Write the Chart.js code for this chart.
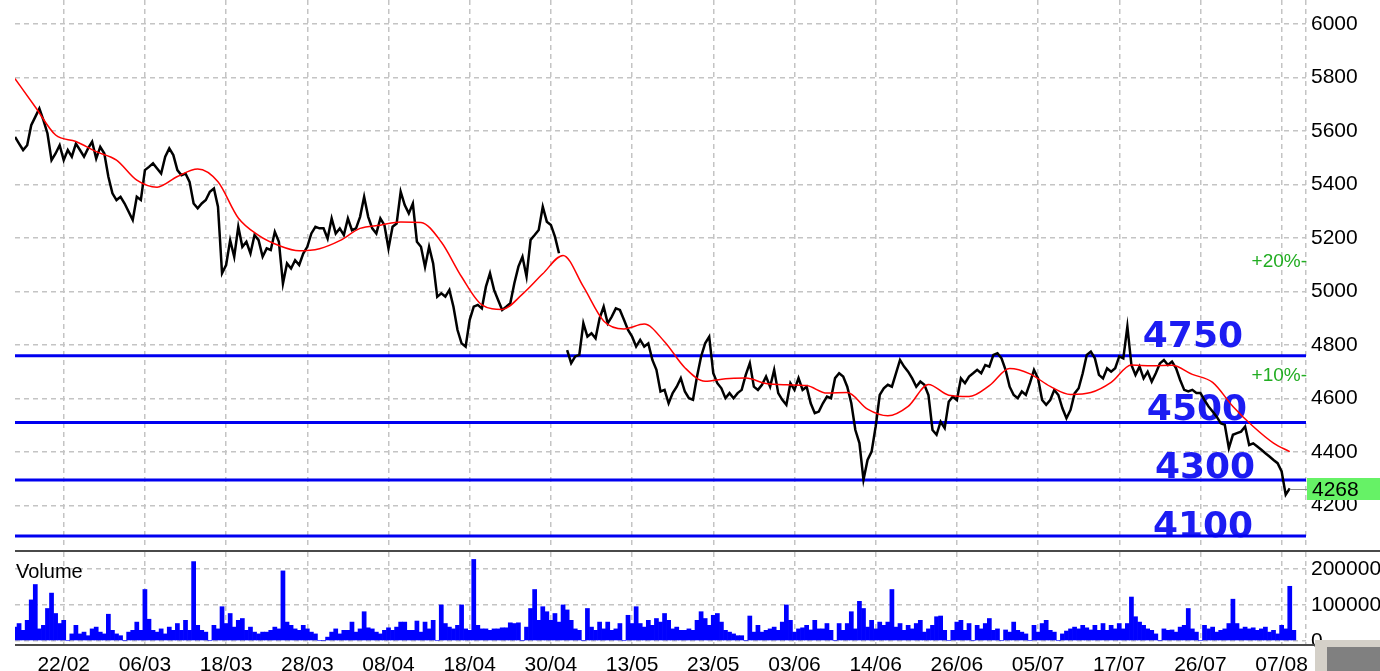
<!DOCTYPE html>
<html lang="pt">
<head>
<meta charset="UTF-8">
<title>Cotação</title>
<script src="https://cdn.jsdelivr.net/npm/chart.js@4"></script>
<style>
  body { margin: 0; width: 1380px; height: 671px; overflow: hidden; background: #fff; position: relative; }
  canvas { position: absolute; left: 0; }
  #precos { top: 0; }
  #volume { top: 549px; }
  .botao { position: absolute; left: 1315px; top: 640px; width: 65px; height: 31px; background: #d4d0c8; }
  .botao div { position: absolute; left: 12px; top: 7px; right: 0; bottom: 0; background: #808080; }
</style>
</head>
<body>
<canvas id="precos" width="1380" height="549"></canvas>
<canvas id="volume" width="1380" height="122"></canvas>
<div class="botao"><div></div></div>
<script>
// datas do eixo x (uma a cada 20 pontos)
const rotulosDatas = ['22/02','06/03','18/03','28/03','08/04','18/04','30/04','13/05','23/05','03/06','14/06','26/06','05/07','17/07','26/07','07/08'];
const ticksPreco = [4200, 4400, 4600, 4800, 5000, 5200, 5400, 5600, 5800, 6000];
const ticksVolume = [0, 100000, 200000];

// cotacao (um ponto por posicao)
const precos = [
  5578,5553,5529,5547,5622,5653,5684,5641,5591,5491,
  5516,5547,5491,5529,5504,5553,5529,5504,5535,5560,
  5497,5541,5516,5429,5367,5342,5354,5329,5298,5267,
  5354,5342,5454,5466,5479,5460,5441,5504,5535,5510,
  5454,5435,5441,5410,5329,5311,5329,5342,5373,5385,
  5317,5068,5099,5192,5130,5242,5167,5186,5142,5211,
  5192,5130,5161,5155,5223,5186,5030,5105,5086,5117,
  5099,5142,5167,5217,5242,5236,5236,5198,5273,5217,
  5236,5211,5273,5229,5236,5279,5354,5279,5236,5217,
  5273,5248,5161,5242,5254,5373,5323,5292,5329,5186,
  5167,5092,5167,5105,4980,4993,4981,5006,4943,4856,
  4806,4794,4894,4943,4950,4937,5018,5068,5006,4968,
  4931,4943,4956,5031,5093,5130,5056,5193,5211,5230,
  5317,5261,5249,5205,5143,null,4781,4732,4757,4763,
  4881,4831,4844,4825,4900,4943,4881,4906,4937,4931,
  4894,4856,4831,4794,4819,4794,4806,4744,4707,4626,
  4632,4582,4620,4644,4676,4626,4601,4595,4682,4757,
  4806,4831,4694,4657,4638,4601,4620,4601,4620,4632,
  4688,4732,4644,4632,4651,4682,4644,4707,4620,4595,
  4576,4657,4632,4676,4632,4644,4582,4545,4551,4582,
  4607,4601,4676,4694,4682,4644,4582,4482,4433,4296,
  4370,4401,4495,4613,4638,4651,4644,4694,4744,4719,
  4700,4675,4644,4663,4651,4613,4482,4464,4513,4489,
  4588,4607,4594,4675,4657,4682,4694,4707,4694,4725,
  4719,4763,4769,4750,4707,4644,4613,4601,4626,4613,
  4657,4707,4675,4594,4576,4594,4632,4613,4563,4526,
  4557,4619,4638,4694,4763,4775,4750,4688,4675,4713,
  4700,4713,4757,4750,4869,4725,4688,4719,4675,4700,
  4663,4694,4731,4744,4725,4738,4713,4669,4632,4626,
  4632,4620,4620,4594,4570,4551,4532,4507,4501,4414,
  4464,4470,4476,4495,4426,4432,4420,4408,4395,4383,
  4370,4358,4327,4240,4264
];

// media movel (um valor a cada 5 posicoes) e o ultimo ponto
const mediaMovel = [
  5796,5690,5585,5561,5523,5491,5416,5390,5430,5458,
  5410,5275,5210,5172,5152,5160,5190,5236,5248,5260,
  5258,5185,5055,4950,4933,4990,5066,5135,5018,4890,
  4860,4878,4812,4715,4664,4674,4676,4656,4651,4648,
  4620,4622,4560,4535,4570,4652,4612,4607,4648,4712,
  4692,4645,4615,4622,4660,4725,4722,4724,4690,4660,
  4570,4495,4433
];
const mediaFinal = 4401;

// volume em milhares
const volumeMil = [
  38,48,29,57,114,157,33,43,90,133,
  76,48,57,0,19,43,19,24,14,33,
  38,24,19,74,29,19,14,0,24,29,
  52,29,143,60,29,24,33,19,38,29,
  48,29,57,29,221,43,29,24,0,43,
  33,95,48,76,38,57,62,29,38,24,
  19,24,24,29,38,33,195,52,43,33,
  29,43,33,24,19,0,0,10,24,33,
  19,29,29,52,24,33,81,36,33,24,
  19,29,36,29,38,52,52,29,29,55,
  24,52,33,57,0,100,48,38,33,43,
  100,33,29,227,43,33,33,29,33,33,
  36,36,50,48,50,0,38,90,143,57,
  95,81,57,76,52,100,86,57,33,29,
  0,90,38,29,52,33,52,29,33,48,
  0,71,48,95,48,38,57,43,62,52,
  76,57,33,38,29,29,33,29,57,81,
  62,43,71,76,52,29,24,19,14,14,
  0,69,24,43,24,29,33,38,29,52,
  100,57,24,33,36,43,30,57,33,33,
  48,29,0,48,29,48,81,33,110,90,
  38,57,33,52,43,52,143,38,48,29,
  43,33,48,57,24,33,43,67,69,29,
  0,29,52,57,29,48,0,43,33,48,
  62,29,33,0,30,24,52,29,24,19,
  0,43,24,48,57,29,24,0,19,27,
  33,38,33,43,36,30,43,29,48,29,
  43,33,48,33,48,122,67,52,43,33,
  29,19,0,33,29,30,24,38,43,90,
  33,24,0,43,33,38,24,29,33,48,
  116,48,33,38,33,36,29,33,38,24,
  29,19,43,33,152,29
];

// suportes / resistencias
const niveis = [4760, 4510, 4295, 4086];
const rotulosNiveis = ['4750', '4500', '4300', '4100'];
const ultimoPreco = 4268;
const faixas = [20, 10];

const X_MAX = 318;
const posGrade = rotulosDatas.map((_, i) => 12 + i * 20).concat([X_MAX]);

Chart.defaults.font.family = '"Liberation Sans", Arial, sans-serif';
Chart.defaults.color = '#000';

const grade = { color: '#c4c4c4', lineWidth: 1.5, drawTicks: false };
const bordaTracejada = { display: false, dash: [5, 4] };

function eixoX(comRotulos) {
  return {
    type: 'linear', min: 0, max: X_MAX, offset: false,
    grid: Object.assign({ offset: false }, grade),
    border: bordaTracejada,
    afterBuildTicks: s => { s.ticks = posGrade.map(v => ({ value: v })); },
    afterFit: s => { s.height = comRotulos ? 27 : 0; },
    ticks: {
      display: comRotulos, autoSkip: false, maxRotation: 0, padding: 9,
      font: { size: 21 },
      callback: v => { const k = (v - 12) / 20; return rotulosDatas[k] || ''; }
    }
  };
}

function eixoY(min, max, lista) {
  return {
    type: 'linear', position: 'right', min: min, max: max,
    grid: grade,
    border: bordaTracejada,
    afterBuildTicks: s => { s.ticks = lista.map(v => ({ value: v })); },
    afterFit: s => { s.width = 74; s.paddingTop = 0; s.paddingBottom = 0; },
    ticks: { padding: 5, font: { size: 21 }, callback: v => String(v) }
  };
}

const textosPreco = {
  id: 'textosPreco',
  beforeDatasetsDraw(chart) {
    const { ctx, scales: { x, y } } = chart;
    const ancora = [277.8, 278.8, 280.8, 280.3];
    const desloc = [-9, -3, -2, 1];
    ctx.save();
    ctx.font = 'bold 36px "DejaVu Sans"';
    ctx.fillStyle = '#1c1cf2';
    ctx.textAlign = 'left';
    ctx.textBaseline = 'alphabetic';
    niveis.forEach((n, i) => {
      ctx.fillText(rotulosNiveis[i], x.getPixelForValue(ancora[i]), y.getPixelForValue(n) + desloc[i]);
    });
    ctx.font = '19px "Liberation Sans"';
    ctx.fillStyle = '#22ad22';
    ctx.textAlign = 'right';
    ctx.textBaseline = 'middle';
    faixas.forEach(p => {
      ctx.fillText('+' + p + '%-', chart.chartArea.right + 1, y.getPixelForValue(ultimoPreco * (1 + p / 100)) + 3);
    });
    ctx.restore();
  },
  afterDraw(chart) {
    const { ctx, scales: { x, y }, chartArea } = chart;
    const yp = Math.round(y.getPixelForValue(ultimoPreco)) + 2;
    ctx.save();
    ctx.strokeStyle = '#8c8c8c';
    ctx.lineWidth = 1;
    ctx.beginPath();
    ctx.moveTo(x.getPixelForValue(precos.length - 1), yp + 0.5);
    ctx.lineTo(chartArea.right + 1, yp + 0.5);
    ctx.stroke();
    ctx.fillStyle = '#66f266';
    ctx.fillRect(chartArea.right + 1, yp - 11, 74, 22);
    ctx.fillStyle = '#000';
    ctx.font = '21px "Liberation Sans"';
    ctx.textBaseline = 'middle';
    ctx.fillText(String(ultimoPreco), chartArea.right + 6, yp + 1);
    ctx.restore();
  }
};

const dadosPreco = precos.map((v, i) => ({ x: i, y: v }));
const dadosMedia = mediaMovel.map((v, i) => ({ x: i * 5, y: v })).concat([{ x: precos.length - 1, y: mediaFinal }]);
const linhasNiveis = niveis.map(n => ({
  data: [{ x: 0, y: n }, { x: X_MAX, y: n }],
  borderColor: '#0000f0', borderWidth: 3, pointRadius: 0
}));

new Chart(document.getElementById('precos'), {
  type: 'line',
  data: {
    datasets: [
      { data: dadosMedia, borderColor: '#ff0000', borderWidth: 1.5, pointRadius: 0, cubicInterpolationMode: 'monotone' },
      { data: dadosPreco, borderColor: '#000', borderWidth: 2.5, pointRadius: 0, spanGaps: false }
    ].concat(linhasNiveis)
  },
  options: {
    responsive: false, animation: false, devicePixelRatio: 1,
    layout: { padding: { left: 15 } },
    plugins: { legend: { display: false }, tooltip: { enabled: false } },
    scales: { x: eixoX(false), y: eixoY(4037, 6090, ticksPreco) }
  },
  plugins: [textosPreco]
});

const molduraVolume = {
  id: 'molduraVolume',
  afterDraw(chart) {
    const { ctx, chartArea } = chart;
    ctx.save();
    ctx.fillStyle = '#4a4a4a';
    ctx.fillRect(chartArea.left, 1, 1380 - chartArea.left, 2);
    ctx.fillRect(chartArea.left, chartArea.bottom, 1300, 2);
    ctx.fillStyle = '#000';
    ctx.font = '20px "Liberation Sans"';
    ctx.textBaseline = 'alphabetic';
    ctx.fillText('Volume', 16, 29);
    ctx.restore();
  }
};

new Chart(document.getElementById('volume'), {
  type: 'bar',
  data: {
    datasets: [{
      data: volumeMil.map((v, i) => ({ x: i, y: v * 1000 })),
      backgroundColor: '#0000ff', borderWidth: 0,
      barPercentage: 1, categoryPercentage: 1
    }]
  },
  options: {
    responsive: false, animation: false, devicePixelRatio: 1,
    layout: { padding: { left: 15, top: 3 } },
    plugins: { legend: { display: false }, tooltip: { enabled: false } },
    scales: { x: eixoX(true), y: eixoY(-9200, 247800, ticksVolume) }
  },
  plugins: [molduraVolume]
});
</script>
</body>
</html>
